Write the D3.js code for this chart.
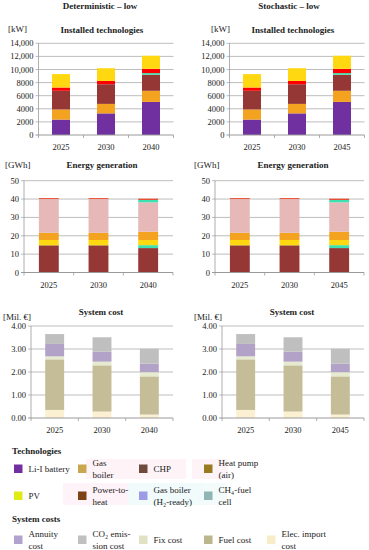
<!DOCTYPE html>
<html><head><meta charset="utf-8">
<script src="https://cdn.jsdelivr.net/npm/d3@7"></script>
<style>
html,body{margin:0;padding:0;background:#fff;}
svg{display:block;}
</style></head>
<body><svg id="c" width="369" height="550" font-family="'Liberation Serif', 'DejaVu Serif', serif"></svg>
<script>
// ---------- DATA ----------
const yearsDet = ["2025","2030","2040"];
const yearsSto = ["2025","2030","2045"];

// Installed technologies [kW], stacked bottom -> top
const instBattery   = [2350, 3300, 5050];
const instBoiler    = [1550, 1450, 1700];
const instCHP       = [2850, 3000, 2450];
const instFuelCell  = [0, 0, 250];
const instP2H       = [500, 500, 650];
const instPV        = [2050, 1950, 2000];
const instTicks     = [0, 2000, 4000, 6000, 8000, 10000, 12000, 14000];
const instTickLabels= ["0","2000","4000","6000","8000","10,000","12,000","14,000"];

// Energy generation [GWh], stacked bottom -> top
const genCHP        = [14.5, 14.5, 13.3];
const genP2H        = [0.3, 0.3, 0];
const genFuelCell   = [0, 0, 1.6];
const genPV         = [2.9, 2.9, 2.8];
const genBoiler     = [3.9, 3.9, 4.5];
const genImport     = [18.4, 18.4, 16.0];
const genFuelCell2  = [0, 0, 1.3];
const genOther      = [0.5, 0.5, 0.7];
const genTicks      = [0, 10, 20, 30, 40, 50];
const genTickLabels = ["0","10","20","30","40","50"];

// System cost [Mil. €], stacked bottom -> top
const costImport    = [0.35, 0.28, 0.15];
const costFuel      = [2.20, 2.01, 1.66];
const costFix       = [0.13, 0.16, 0.18];
const costAnnuity   = [0.54, 0.43, 0.37];
const costCO2       = [0.43, 0.63, 0.65];
const costTicks     = [0, 1, 2, 3, 4];
const costTickLabels= ["0.00","1.00","2.00","3.00","4.00"];

const legendTech = [
  {lines:["Li-I battery"], color:"#7030a0"},
  {lines:["Gas","boiler"], color:"#c9a74e"},
  {lines:["CHP"], color:"#6e4b3a"},
  {lines:["Heat pump","(air)"], color:"#9a7a1e"},
  {lines:["PV"], color:"#e0ea14"},
  {lines:["Power-to-","heat"], color:"#7b4216"},
  {lines:["Gas boiler","(H\u2082-ready)"], color:"#9b9be6"},
  {lines:["CH\u2084-fuel","cell"], color:"#8fb5b5"}
];
const legendCost = [
  {lines:["Annuity","cost"], color:"#b1a3d0"},
  {lines:["CO\u2082 emis-","sion cost"], color:"#c0c0c0"},
  {lines:["Fix cost"], color:"#dfe3c4"},
  {lines:["Fuel cost"], color:"#bcb68e"},
  {lines:["Elec. import","cost"], color:"#f7edc8"}
];

// ---------- STYLE ----------
const instSeries = [
  {v:instBattery, c:"#7030a0"},{v:instBoiler, c:"#f4a320"},{v:instCHP, c:"#953735"},
  {v:instFuelCell, c:"#3fe0b0"},{v:instP2H, c:"#ff0000"},{v:instPV, c:"#ffd811"}
];
const genSeries = [
  {v:genCHP, c:"#953735"},{v:genP2H, c:"#5a2a10"},{v:genFuelCell, c:"#3fe0b0"},
  {v:genPV, c:"#ffd811"},{v:genBoiler, c:"#f4a320"},{v:genImport, c:"#e6b9b8"},
  {v:genFuelCell2, c:"#3fe0b0"},{v:genOther, c:"#e8482c"}
];
const costSeries = [
  {v:costImport, c:"#fcf0d2"},{v:costFuel, c:"#c4bd97"},{v:costFix, c:"#e6ebcf"},
  {v:costAnnuity, c:"#b3a2c7"},{v:costCO2, c:"#bfbfbf"}
];

const svg = d3.select("#c");
const GRID = "#bdbdbd", AXIS = "#9a9a9a", TXT = "#222";

function chart(o){
  const g = svg.append("g");
  const x = d3.scaleBand().domain(o.cats).range([o.x0, o.x1]).paddingInner(0.6).paddingOuter(0.3);
  const y = d3.scaleLinear().domain([0, o.max]).range([o.y0, o.yTop]);
  g.selectAll(".gl").data(o.ticks.filter(t=>t>0)).enter().append("line")
    .attr("x1", o.x0-3).attr("x2", o.x1).attr("y1", d=>y(d)).attr("y2", d=>y(d))
    .attr("stroke", GRID).attr("stroke-width", 1);
  g.append("line").attr("x1", o.x0).attr("x2", o.x0).attr("y1", y(0)).attr("y2", y(o.max))
    .attr("stroke", AXIS).attr("stroke-width", 0.8);
  g.selectAll(".tl").data(o.ticks).enter().append("text")
    .attr("x", o.x0-5).attr("y", d=>y(d)+3).attr("text-anchor","end")
    .attr("font-size", 8.5).attr("fill", TXT).text((d,i)=>o.tickLabels[i]);
  const n = o.cats.length;
  for(let i=0;i<n;i++){
    let base = 0;
    o.series.forEach(s=>{
      const val = s.v[i];
      if(val>0){
        g.append("rect").attr("x", x(o.cats[i])).attr("width", x.bandwidth())
          .attr("y", y(base+val)).attr("height", y(base)-y(base+val)).attr("fill", s.c);
      }
      base += val;
    });
  }
  g.append("line").attr("x1", o.x0-3).attr("x2", o.x1).attr("y1", y(0)).attr("y2", y(0))
    .attr("stroke", AXIS).attr("stroke-width", 1);
  const step = x.step();
  const bnds = [o.x0];
  for(let i=1;i<n;i++) bnds.push(x(o.cats[i]) - step*0.3);
  bnds.push(o.x1);
  g.selectAll(".xt").data(bnds).enter().append("line")
    .attr("x1", d=>d).attr("x2", d=>d).attr("y1", y(0)).attr("y2", y(0)+3)
    .attr("stroke", AXIS).attr("stroke-width", 0.8);
  g.selectAll(".xl").data(o.cats).enter().append("text")
    .attr("x", d=>x(d)+x.bandwidth()/2).attr("y", o.y0+15).attr("text-anchor","middle")
    .attr("font-size", 8.5).attr("fill", TXT).text(d=>d);
  g.append("text").attr("x", o.titleX).attr("y", o.titleY).attr("text-anchor","middle")
    .attr("font-size", 9).attr("font-weight","bold").attr("fill", TXT).text(o.title);
  g.append("text").attr("x", o.unitX).attr("y", o.unitY)
    .attr("font-size", 9).attr("fill", TXT).text(o.unit);
}

const cols = [
  {dx:0, cats:yearsDet, head:"Deterministic \u2013 low", headX:100, unitShift:0},
  {dx:191, cats:yearsSto, head:"Stochastic \u2013 low", headX:289, unitShift:1}
];
cols.forEach(cl=>{
  svg.append("text").attr("x", cl.headX).attr("y", 9).attr("text-anchor","middle")
    .attr("font-size", 9).attr("font-weight","bold").attr("fill", TXT).text(cl.head);
  chart({cats:cl.cats, x0:38.5+cl.dx, x1:173.5+cl.dx, y0:135, yTop:43.3, max:14000,
    ticks:instTicks, tickLabels:instTickLabels, series:instSeries,
    title:"Installed technologies", titleX:102+cl.dx, titleY:33,
    unit:"[kW]", unitX: cl.unitShift? 211 : 8, unitY:32});
  chart({cats:cl.cats, x0:24+cl.dx, x1:173+cl.dx, y0:272.5, yTop:180.7, max:50,
    ticks:genTicks, tickLabels:genTickLabels, series:genSeries,
    title:"Energy generation", titleX:102+cl.dx, titleY:168,
    unit:"[GWh]", unitX: cl.unitShift? 194 : 5, unitY:168});
  chart({cats:cl.cats, x0:31+cl.dx, x1:173+cl.dx, y0:418, yTop:326, max:4,
    ticks:costTicks, tickLabels:costTickLabels, series:costSeries,
    title:"System cost", titleX:101+cl.dx, titleY:315,
    unit:"[Mil. \u20ac]", unitX: cl.unitShift? 194 : 3, unitY:320});
});

// ---------- LEGEND ----------
const bgs = [
  {x:86,y:459,w:100,h:20,c:"#fef4f8"},{x:192,y:459,w:36,h:20,c:"#fef4f8"},
  {x:63,y:483,w:65,h:22,c:"#fef3f8"},{x:128,y:483,w:75,h:22,c:"#f1fbfc"},{x:203,y:483,w:24,h:22,c:"#f3fbfb"}
];
svg.selectAll(".bg").data(bgs).enter().append("rect")
  .attr("x",d=>d.x).attr("y",d=>d.y).attr("width",d=>d.w).attr("height",d=>d.h).attr("fill",d=>d.c);

svg.append("text").attr("x",12).attr("y",454).attr("font-size",9).attr("font-weight","bold").attr("fill",TXT).text("Technologies");
svg.append("text").attr("x",12).attr("y",521.5).attr("font-size",9).attr("font-weight","bold").attr("fill",TXT).text("System costs");

const techX = [14, 78, 139, 204];
function legendItem(item, sx, cy){
  svg.append("rect").attr("x",sx).attr("y",cy-4).attr("width",8.5).attr("height",8.5).attr("fill",item.color);
  const tx = sx + 14.5;
  if(item.lines.length===1){
    svg.append("text").attr("x",tx).attr("y",cy+3.5).attr("font-size",9).attr("fill",TXT).text(item.lines[0]);
  } else {
    item.lines.forEach((l,i)=>{
      svg.append("text").attr("x",tx).attr("y",cy-2.5+i*11.5).attr("font-size",9).attr("fill",TXT).text(l);
    });
  }
}
legendTech.forEach((it,i)=>{
  const row = Math.floor(i/4), col = i%4;
  legendItem(it, techX[col], row===0 ? 468.5 : 495.5);
});
const costX = [14, 78, 139, 204, 267];
legendCost.forEach((it,i)=> legendItem(it, costX[i], 539.5));
</script>
</body></html>
